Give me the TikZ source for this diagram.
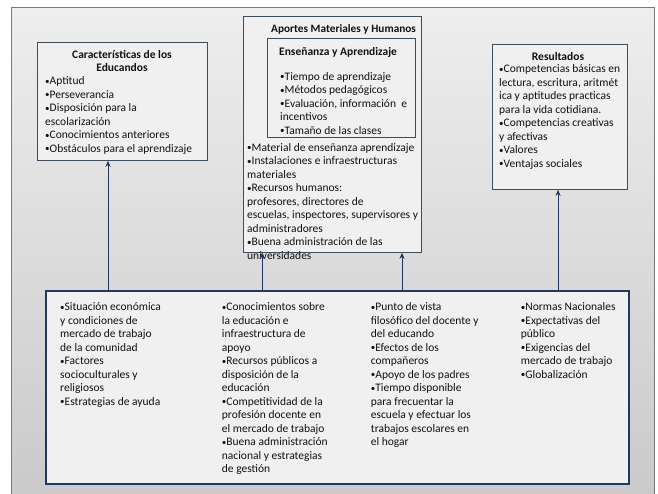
\documentclass[tikz,border=0pt]{standalone}
\usepackage{fontspec}
\setmainfont{Carlito}
\usetikzlibrary{arrows.meta}
\definecolor{slidetop}{HTML}{EEEEEE}
\definecolor{slidebot}{HTML}{CACACA}
\definecolor{framecol}{HTML}{7A7A7A}
\definecolor{boxfill}{HTML}{F0F0F0}
\definecolor{boxline}{HTML}{3E4C5C}
\definecolor{navyline}{HTML}{1F3A5A}
\definecolor{arrowcol}{HTML}{27325E}
\definecolor{inkcol}{HTML}{111111}
% small list bullet
\newcommand\bu{{\fontsize{9}{9}\selectfont\raisebox{0.15ex}{•}}}
\begin{document}
\begin{tikzpicture}[x=1pt,y=-1pt,
  ubox/.style={draw=boxline, line width=0.8pt, fill=boxfill, anchor=north west, inner sep=0pt},
  lbox/.style={draw=navyline, line width=1.6pt, fill=boxfill, anchor=north west, inner sep=0pt},
  % text blocks are placed by the baseline of their first line
  txt/.style={align=left, anchor=north west, inner sep=0pt, text=inkcol, yshift=9.45pt,
    font=\fontsize{11.5}{13.5}\selectfont, execute at begin node=\strut},
  ttl/.style={align=center, anchor=north, inner sep=0pt, text=inkcol, yshift=9.45pt,
    font=\fontsize{11.5}{13.5}\selectfont\bfseries, execute at begin node=\strut},
  arr/.style={draw=arrowcol, line width=1pt, -{Stealth[length=6pt,width=5pt]}}]
\useasboundingbox (0,0) rectangle (658,493);
% page and slide area
\fill[white] (0,0) rectangle (658,493);
\shade[top color=slidetop, bottom color=slidebot] (11,7) rectangle (654,494);
\draw[framecol, line width=0.8pt] (11,494) -- (11,7) -- (654,7) -- (654,494);

% boxes
\node[ubox, minimum width=170pt, minimum height=118pt] (lft) at (37,42) {};
\node[ubox, minimum width=178pt, minimum height=236pt] (mid) at (243,16) {};
\node[ubox, minimum width=148pt, minimum height=99pt] (inn) at (267,38) {};
\node[ubox, minimum width=135pt, minimum height=145pt] (rgt) at (492,44) {};
\node[lbox, minimum width=583pt, minimum height=193pt] (bot) at (45,290) {};

% left box text
\node[ttl] (lftT) at (122,59.5) {Características de los\\Educandos};
\node[txt] (lftB) at (45,86) {\bu Aptitud\\\bu Perseverancia\\\bu Disposición para la\\escolarización\\\bu Conocimientos anteriores\\\bu Obstáculos para el aprendizaje};

% middle box text
\node[txt, font=\fontsize{11.3}{13.5}\selectfont\bfseries] (midT) at (271,32) {Aportes Materiales y Humanos};
\node[txt, font=\fontsize{11.5}{13.5}\selectfont\bfseries] (innT) at (279,55) {Enseñanza y Aprendizaje};
\node[txt] (innB) at (280,81.5) {\bu Tiempo de aprendizaje\\\bu Métodos pedagógicos\\\bu Evaluación, información\ \ e\\incentivos\\\bu Tamaño de las clases};
\node[txt] (midB) at (247,152.5) {\bu Material de enseñanza aprendizaje\\\bu Instalaciones e infraestructuras\\materiales\\\bu Recursos humanos:\\profesores, directores de\\escuelas, inspectores, supervisores y\\administradores\\\bu Buena administración\ de las\\universidades};

% right box text
\node[ttl] (rgtT) at (558,60) {Resultados};
\node[txt] (rgtB) at (499,74) {\bu Competencias básicas en\\lectura, escritura, aritmét\\ica y aptitudes practicas\\para la vida\ cotidiana.\\\bu Competencias creativas\\y afectivas\\\bu Valores\\\bu Ventajas sociales};

% bottom box columns
\node[txt] (c1) at (60,312) {\bu Situación económica\\y condiciones de\\mercado de trabajo\\de la comunidad\\\bu Factores\\socioculturales y\\religiosos\\\bu Estrategias de ayuda};
\node[txt] (c2) at (221.7,312) {\bu Conocimientos sobre\\la educación\ e\\infraestructura de\\apoyo\\\bu Recursos públicos\ a\\disposición de la\\educación\\\bu Competitividad de la\\profesión docente en\\el mercado de trabajo\\\bu Buena administración\\nacional y estrategias\\de gestión};
\node[txt] (c3) at (370.7,312) {\bu Punto de vista\\filosófico del docente y\\del educando\\\bu Efectos de los\\compañeros\\\bu Apoyo de los padres\\\bu Tiempo disponible\\para frecuentar la\\escuela y efectuar los\\trabajos escolares en\\el hogar};
\node[txt] (c4) at (520.7,312) {\bu Normas Nacionales\\\bu Expectativas del\\público\\\bu Exigencias del\\mercado de trabajo\\\bu Globalización};

% connectors from the bottom box up to the three upper boxes
\coordinate (a1) at (108,290);
\coordinate (a2) at (262,290);
\coordinate (a3) at (402,290);
\coordinate (a4) at (558,290);
\draw[arr] (a1) -- (a1 |- lft.south);
\draw[arr] (a2) -- (a2 |- mid.south);
\draw[arr] (a3) -- (a3 |- mid.south);
\draw[arr] (a4) -- (a4 |- rgt.south);
\end{tikzpicture}
\end{document}
